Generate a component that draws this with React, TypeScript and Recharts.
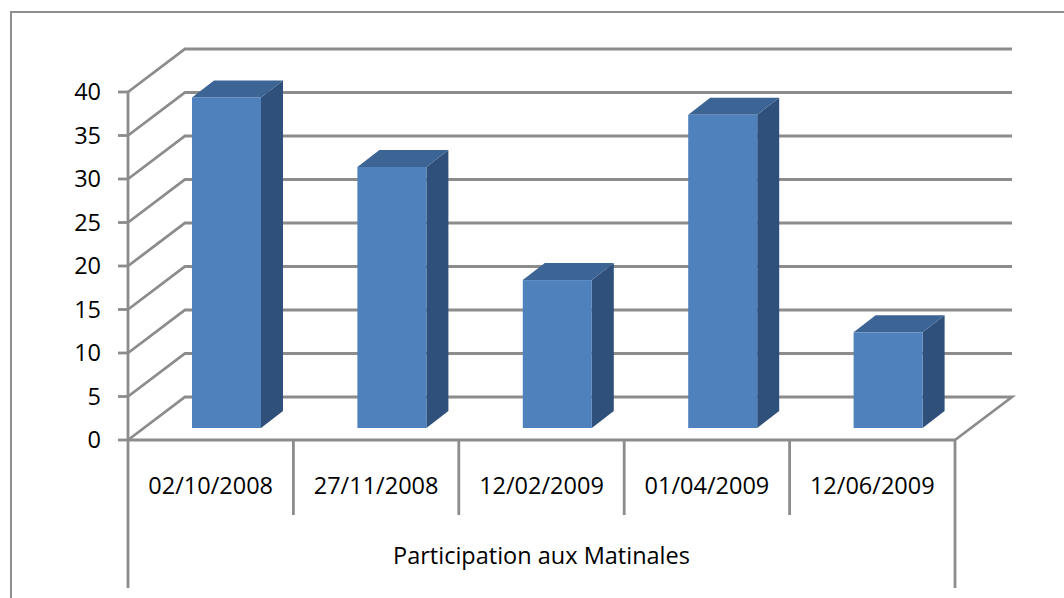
import React from 'react';
import { BarChart, Bar, XAxis, YAxis, CartesianGrid } from 'recharts';

// Participation aux Matinales — 3D-style column chart
const dates = ['02/10/2008', '27/11/2008', '12/02/2009', '01/04/2009', '12/06/2009'];
const participants = [38, 30, 17, 36, 11];
const yTicks = [0, 5, 10, 15, 20, 25, 30, 35, 40];
const groupLabel = 'Participation aux Matinales';

const data = dates.map((d, i) => ({ date: d, value: participants[i] }));

const W = 1064;
const H = 598;
const PLOT_LEFT = 128;
const PLOT_RIGHT = 955;
const PLOT_TOP = 92;
const PLOT_BOTTOM = 440;
const Y_AXIS_W = 60;
const X_AXIS_H = 150;

// perspective offsets
const WALL = { dx: 57, dy: -43 };
const BAR_OFF = { dx: 16, dy: -12 };
const DEPTH = { dx: 22, dy: -17 };

const GRID = '#8c8c8c';
const FONT = '"Open Sans", sans-serif';
const FS = 23.5;

const GridLine = (props: any) => {
  const { x1, x2, y1 } = props;
  const isFloor = Math.abs(y1 - PLOT_BOTTOM) < 1;
  let d = `M${x1},${y1} L${x1 + WALL.dx},${y1 + WALL.dy} L${x2 + WALL.dx},${y1 + WALL.dy}`;
  if (isFloor) d += ` L${x2},${y1}`;
  return <path key={`g-${y1}`} d={d} fill="none" stroke={GRID} strokeWidth={2.8} />;
};

const Box = (props: any) => {
  const { x, y, width, height } = props;
  if (!height) return null;
  const fx = x + BAR_OFF.dx;
  const fy = y + BAR_OFF.dy;
  const top = `M${fx},${fy} L${fx + DEPTH.dx},${fy + DEPTH.dy} L${fx + width + DEPTH.dx},${fy + DEPTH.dy} L${fx + width},${fy} Z`;
  const side = `M${fx + width},${fy} L${fx + width + DEPTH.dx},${fy + DEPTH.dy} L${fx + width + DEPTH.dx},${fy + height + DEPTH.dy} L${fx + width},${fy + height} Z`;
  return (
    <g>
      <path d={side} fill="#30507c" />
      <path d={top} fill="#3c6494" />
      <rect x={fx} y={fy} width={width} height={height} fill="#4f81bd" />
    </g>
  );
};

const DateTick = (props: any) => {
  const { x, y, payload, index } = props;
  const half = payload?.offset ?? (PLOT_RIGHT - PLOT_LEFT) / dates.length / 2;
  const last = dates.length - 1;
  return (
    <g>
      <line x1={x - half} y1={PLOT_BOTTOM} x2={x - half} y2={index === 0 ? 588 : 515} stroke={GRID} strokeWidth={2.8} />
      {index === last && (
        <line x1={x + half} y1={PLOT_BOTTOM} x2={x + half} y2={588} stroke={GRID} strokeWidth={2.8} />
      )}
      <text x={x} y={y + 40} textAnchor="middle" dominantBaseline="middle" fontSize={FS} fontFamily={FONT} fill="#000">
        {payload.value}
      </text>
    </g>
  );
};

const GroupLabel = (props: any) => {
  const { viewBox } = props;
  return (
    <text x={viewBox.x + viewBox.width / 2} y={558} textAnchor="middle" dominantBaseline="middle" fontSize={FS} fontFamily={FONT} fill="#000">
      {groupLabel}
    </text>
  );
};

export default function App() {
  return (
    <div style={{ position: 'absolute', left: 0, top: 0, width: W, height: H, overflow: 'hidden', background: '#fff' }}>
      <div style={{ position: 'absolute', left: 10, top: 11, width: 1200, height: 800, border: '2px solid #8e8e8e' }} />
      <div style={{ position: 'absolute', left: 0, top: 0 }}>
        <BarChart
          width={W}
          height={H}
          data={data}
          margin={{ left: PLOT_LEFT - Y_AXIS_W, right: W - PLOT_RIGHT, top: PLOT_TOP, bottom: H - PLOT_BOTTOM - X_AXIS_H }}
        >
          <CartesianGrid vertical={false} horizontal={GridLine} />
          <XAxis
            dataKey="date"
            height={X_AXIS_H}
            axisLine={{ stroke: GRID, strokeWidth: 2.8 }}
            tickLine={false}
            tick={DateTick}
            interval={0}
            label={<GroupLabel />}
          />
          <YAxis
            width={Y_AXIS_W}
            domain={[0, 40]}
            ticks={yTicks}
            interval={0}
            axisLine={{ stroke: GRID, strokeWidth: 2.8 }}
            tickLine={{ stroke: GRID, strokeWidth: 2.8 }}
            tickSize={10}
            tickMargin={17}
            tick={{ fontSize: FS, fontFamily: FONT, fill: '#000' }}
          />
          <Bar dataKey="value" barSize={69} shape={<Box />} isAnimationActive={false} />
        </BarChart>
      </div>
    </div>
  );
}
